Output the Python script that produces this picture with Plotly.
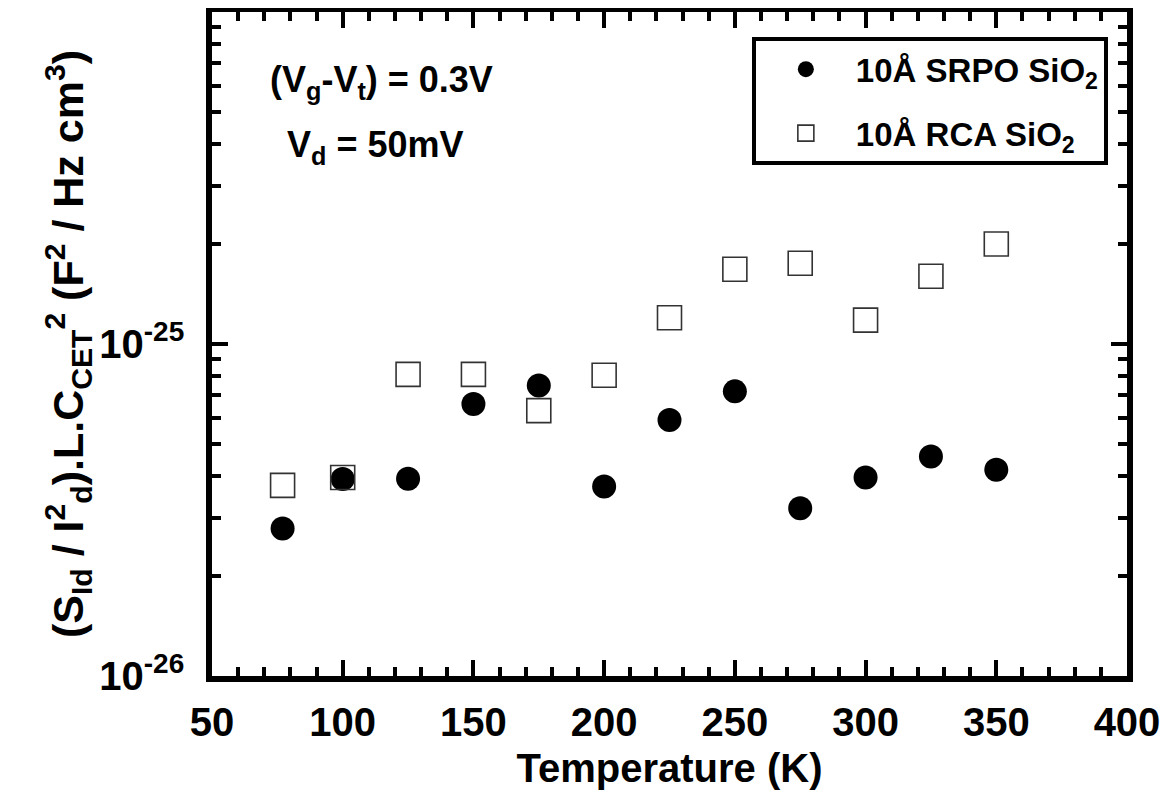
import plotly.graph_objects as go

# Data
temperature = [77, 100, 125, 150, 175, 200, 225, 250, 275, 300, 325, 350]
srpo_values = [2.78e-26, 3.92e-26, 3.93e-26, 6.6e-26, 7.5e-26, 3.72e-26,
               5.9e-26, 7.2e-26, 3.2e-26, 3.96e-26, 4.58e-26, 4.18e-26]
rca_values = [3.75e-26, 3.96e-26, 8.1e-26, 8.1e-26, 6.3e-26, 8.05e-26,
              1.2e-25, 1.68e-25, 1.75e-25, 1.18e-25, 1.6e-25, 2.0e-25]
series_names = ["10Å SRPO SiO<sub>2</sub>", "10Å RCA SiO<sub>2</sub>"]
x_tickvals = [50, 100, 150, 200, 250, 300, 350, 400]
y_tickvals = [1e-26, 1e-25]
y_ticktext = ["10<sup>-26</sup>", "10<sup>-25</sup>"]

FONT = "Liberation Sans, Arial, Helvetica, sans-serif"

fig = go.Figure()
fig.add_trace(go.Scatter(
    x=temperature, y=srpo_values, mode="markers", name=series_names[0],
    legendgroup="a",
    marker=dict(symbol="circle", size=24, color="black", line=dict(width=0)),
))
fig.add_trace(go.Scatter(
    x=temperature, y=rca_values, mode="markers", name=series_names[1],
    legendgroup="b",
    marker=dict(symbol="square-open", size=24, color="#333333",
                line=dict(width=1.6, color="#333333")),
))

axis_common = dict(
    showline=True, linewidth=5.5, linecolor="black", mirror="allticks",
    ticks="inside", ticklen=16, tickwidth=4, tickcolor="black",
    showgrid=False, zeroline=False,
    tickfont=dict(family=FONT, size=40, color="black", weight="bold"),
)

fig.update_xaxes(
    range=[50, 400], tickmode="array", tickvals=x_tickvals,
    ticklabelstandoff=6,
    minor=dict(ticks="inside", dtick=10, ticklen=9, tickwidth=4,
               tickcolor="black", showgrid=False),
    title=dict(text="Temperature (K)", standoff=13,
               font=dict(family=FONT, size=40, color="black", weight="bold")),
    **axis_common,
)
fig.update_yaxes(
    type="log", range=[-26, -24], tickmode="array",
    tickvals=y_tickvals, ticktext=y_ticktext,
    ticklabelstandoff=14,
    minor=dict(ticks="inside", dtick="D1", ticklen=9, tickwidth=4,
               tickcolor="black", showgrid=False),
    title=dict(
        text="(S<sub>Id</sub> / I<sup>2</sup><sub>d</sub>).L.C<sub>CET</sub><sup>2</sup> (F<sup>2</sup> / Hz cm<sup>3</sup>)",
        standoff=4,
        font=dict(family=FONT, size=43, color="black", weight="bold")),
    **axis_common,
)

fig.add_annotation(
    xref="paper", yref="paper", x=0.185, y=0.895, xanchor="center", yanchor="middle",
    text="(V<sub>g</sub>-V<sub>t</sub>) = 0.3V", showarrow=False,
    font=dict(family=FONT, size=36, color="black", weight="bold"),
)
fig.add_annotation(
    xref="paper", yref="paper", x=0.179, y=0.797, xanchor="center", yanchor="middle",
    text="V<sub>d</sub> = 50mV", showarrow=False,
    font=dict(family=FONT, size=36, color="black", weight="bold"),
)

# The page body adds an 8px offset; size the figure so the plot frame lands
# at x 212..1127, y 12..676 in the 1168x798 window.
fig.update_layout(
    width=1160, height=790,
    margin=dict(l=204, r=41, t=4, b=122, autoexpand=False),
    paper_bgcolor="white", plot_bgcolor="white",
    showlegend=True,
    legend=dict(
        x=0.590, y=0.962, xanchor="left", yanchor="top",
        bgcolor="white", bordercolor="black", borderwidth=4,
        font=dict(family=FONT, size=33, color="black", weight="bold"),
        itemsizing="trace", itemwidth=90, tracegroupgap=18,
    ),
    font=dict(family=FONT, color="black"),
)

fig.write_html("out.html")
